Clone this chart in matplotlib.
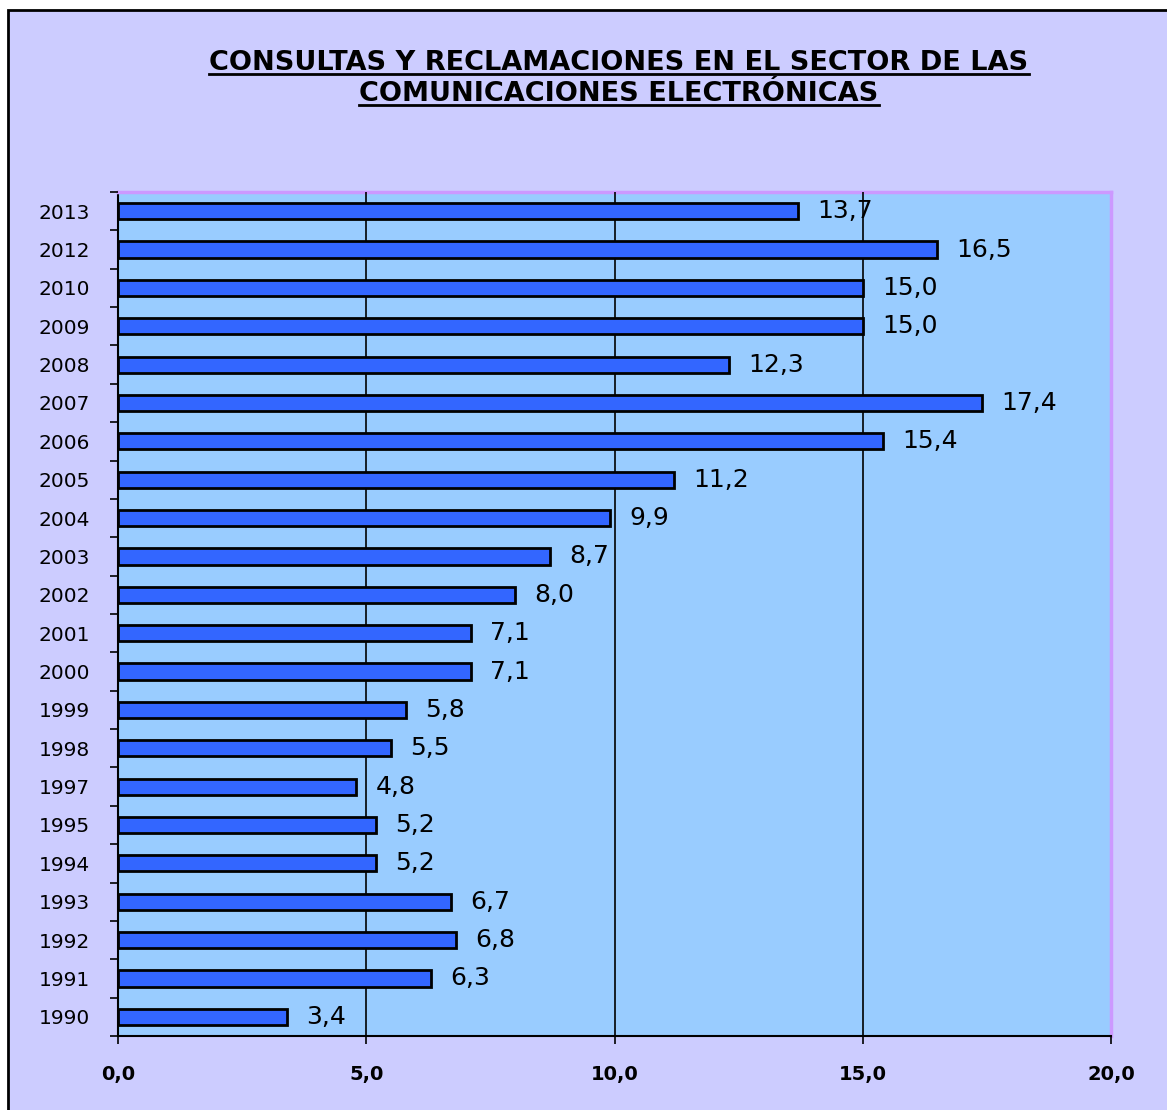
import numpy as np
import matplotlib.pyplot as plt
from matplotlib.patches import Rectangle
from matplotlib.lines import Line2D

plt.rcParams['font.family'] = ['DejaVu Sans']

years = ['2013', '2012', '2010', '2009', '2008', '2007', '2006', '2005', '2004', '2003', '2002',
         '2001', '2000', '1999', '1998', '1997', '1995', '1994', '1993', '1992', '1991', '1990']
values = [13.7, 16.5, 15.0, 15.0, 12.3, 17.4, 15.4, 11.2, 9.9, 8.7, 8.0,
          7.1, 7.1, 5.8, 5.5, 4.8, 5.2, 5.2, 6.7, 6.8, 6.3, 3.4]
xticks = [0, 5, 10, 15, 20]
title_lines = ['CONSULTAS Y RECLAMACIONES EN EL SECTOR DE LAS', 'COMUNICACIONES ELECTRÓNICAS']

W, H = 1167, 1110
fig = plt.figure(figsize=(W / 100, H / 100), dpi=100, facecolor='white')

# outer lavender frame
fig.patches.append(Rectangle((8 / W, -0.05), 1.2, 1 - 10 / H + 0.05, transform=fig.transFigure,
                             facecolor='#CCCCFF', edgecolor='black', linewidth=2, zorder=-5))

ax = fig.add_axes([118 / W, 1 - 1036 / H, (1111 - 118) / W, (1036 - 192) / H])
ax.set_facecolor('#99CCFF')

n = len(years)
ypos = np.arange(n)[::-1]
ax.barh(ypos, values, height=0.42, color='#3366FF', edgecolor='black', linewidth=2, zorder=3)
for y, v in zip(ypos, values):
    ax.annotate(f'{v:.1f}'.replace('.', ','), (v, y), xytext=(14, 0), textcoords='offset points',
                va='center', ha='left', fontsize=18, zorder=1.5)

ax.set_xlim(0, 20)
ax.set_ylim(-0.5, n - 0.5)
ax.set_xticks(xticks)
ax.set_xticklabels([f'{t:.1f}'.replace('.', ',') for t in xticks], fontsize=14, fontweight='bold')
ax.set_yticks(ypos)
ax.set_yticklabels(years, fontsize=14.5)
ax.tick_params(axis='y', which='major', length=0, pad=20)
ax.set_yticks(np.arange(-0.5, n, 1), minor=True)
ax.tick_params(axis='y', which='minor', length=6, width=1.2, direction='out')
ax.tick_params(axis='x', length=6, width=1.2, direction='out', pad=15)
ax.xaxis.grid(True, color='black', linewidth=1.2, zorder=2)
ax.set_axisbelow(False)
gl = ax.get_xgridlines()
gl[0].set_visible(False)
gl[-1].set_visible(False)
for s in ['top', 'right']:
    ax.spines[s].set_color('#CC99FF')
    ax.spines[s].set_linewidth(2.5)
for s in ['left', 'bottom']:
    ax.spines[s].set_color('black')
    ax.spines[s].set_linewidth(1.5)

# title with underline
cx = 619 / W
baselines = [70, 101]
fig.canvas.draw()
renderer = fig.canvas.get_renderer()
for line, yy in zip(title_lines, baselines):
    t = fig.text(cx, 1 - yy / H, line, ha='center', va='baseline', fontsize=19.5, fontweight='bold')
    bb = t.get_window_extent(renderer)
    uy = 1 - (yy + 4) / H
    fig.add_artist(Line2D([bb.x0 / W, bb.x1 / W], [uy, uy], transform=fig.transFigure,
                          color='black', linewidth=2))

fig.savefig('out.png', dpi=100, facecolor=fig.get_facecolor())
